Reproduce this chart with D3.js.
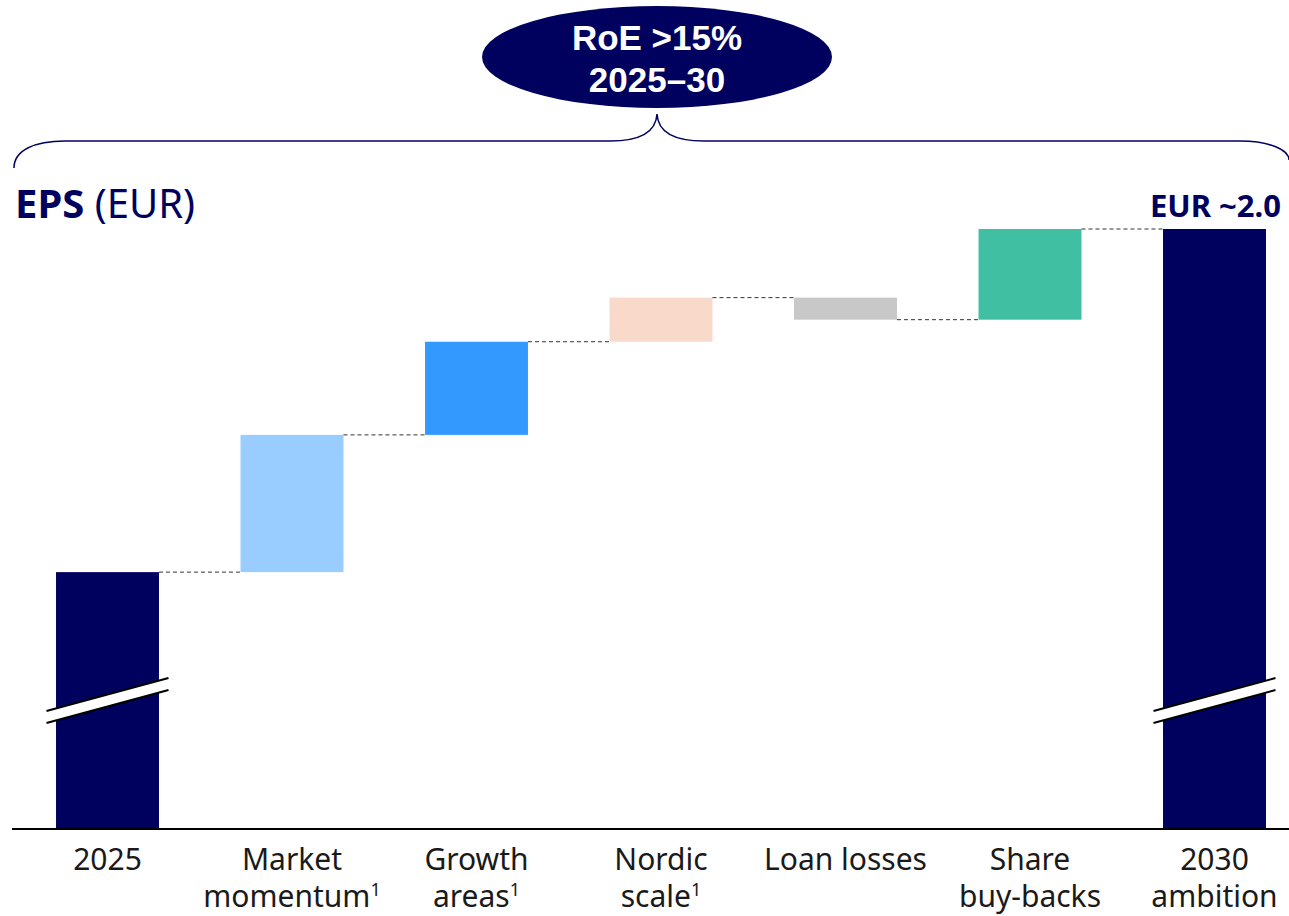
<!DOCTYPE html>
<html>
<head>
<meta charset="utf-8">
<script src="https://cdn.jsdelivr.net/npm/d3@7"></script>
<style>
 body { margin: 0; background: #fff; }
 text { font-family: "Noto Sans", sans-serif; }
</style>
</head>
<body>
<svg width="1289" height="916"></svg>
<script>
// data
var categories = ["2025", "Market momentum", "Growth areas", "Nordic scale", "Loan losses", "Share buy-backs", "2030 ambition"];
var labelLines = [["2025"], ["Market", "momentum"], ["Growth", "areas"], ["Nordic", "scale"], ["Loan losses"], ["Share", "buy-backs"], ["2030", "ambition"]];
var footnotes = ["", "1", "1", "1", "", "", ""];
var kinds = ["total", "delta", "delta", "delta", "delta", "delta", "total"];
var values = [1.30, 0.28, 0.19, 0.09, -0.045, 0.185, 2.0];
var colors = ["#00005e", "#99ccff", "#3399ff", "#f9d9ca", "#c9c8c8", "#40bfa3", "#00005e"];
var bubbleLines = ["RoE >15%", "2025–30"];
var yFloor = 0.778; // axis is broken, bars start here

var svg = d3.select("svg"),
 width = +svg.attr("width"),
 height = +svg.attr("height");

var navy = "#00005e";

var x = d3.scaleBand()
 .domain(categories)
 .range([15.25, 1306.75])
 .paddingInner(0.442)
 .paddingOuter(0.221);

var y = d3.scaleLinear()
 .domain([yFloor, 2.0])
 .range([828, 229]);

// work out the waterfall start/end for every bar
var running = 0;
var bars = categories.map(function(c, i) {
 var d = { name: c, color: colors[i], kind: kinds[i] };
 if (kinds[i] == "total") {
   d.y0 = yFloor; d.y1 = values[i]; running = values[i];
 } else {
   d.y0 = running; d.y1 = running + values[i]; running = d.y1;
 }
 d.end = running;
 return d;
});

svg.append("g").selectAll("rect")
 .data(bars)
 .enter().append("rect")
 .attr("x", function(d) { return x(d.name); })
 .attr("width", x.bandwidth())
 .attr("y", function(d) { return y(Math.max(d.y0, d.y1)); })
 .attr("height", function(d) { return Math.abs(y(d.y0) - y(d.y1)); })
 .attr("fill", function(d) { return d.color; });

// dashed connectors between bars
svg.append("g").selectAll("line")
 .data(bars.slice(0, -1))
 .enter().append("line")
 .attr("x1", function(d) { return x(d.name) + x.bandwidth(); })
 .attr("x2", function(d, i) { return x(categories[i + 1]); })
 .attr("y1", function(d) { return y(d.end); })
 .attr("y2", function(d) { return y(d.end); })
 .attr("stroke", "#333")
 .attr("stroke-width", 1)
 .attr("stroke-dasharray", "4,3");

// axis break marks on the total bars
var breakG = svg.append("g").selectAll("g")
 .data(bars.filter(function(d) { return d.kind == "total"; }))
 .enter().append("g")
 .attr("transform", function(d) {
   return "translate(" + (x(d.name) + x.bandwidth() / 2) + "," + (y(yFloor) - 128) + ")";
 });
breakG.append("path")
 .attr("d", "M-61,11 L61,-22 L61,-10 L-61,23 Z")
 .attr("fill", "#fff");
breakG.append("path")
 .attr("d", "M-61,11 L61,-22 M-61,23 L61,-10")
 .attr("stroke", "#000")
 .attr("stroke-width", 2)
 .attr("fill", "none");

// baseline
svg.append("line")
 .attr("x1", 12).attr("x2", width)
 .attr("y1", y(yFloor) + 1).attr("y2", y(yFloor) + 1)
 .attr("stroke", "#000")
 .attr("stroke-width", 2);

// category labels
var labels = svg.append("g").selectAll("text")
 .data(categories)
 .enter().append("text")
 .attr("text-anchor", "middle")
 .attr("font-size", 30)
 .attr("fill", "#1a1a1a");

labels.each(function(c, i) {
 var t = d3.select(this);
 var cx = x(c) + x.bandwidth() / 2;
 labelLines[i].forEach(function(line, k) {
   t.append("tspan")
     .attr("x", cx)
     .attr("y", 870 + k * 37)
     .text(line);
   if (k == labelLines[i].length - 1 && footnotes[i]) {
     t.append("tspan")
      .attr("dy", -11)
      .attr("font-size", 18)
      .text(footnotes[i]);
   }
 });
});

// title
var title = svg.append("text")
 .attr("x", 15)
 .attr("y", 218)
 .attr("font-size", 40)
 .attr("fill", navy);
title.append("tspan").attr("font-weight", "bold").text("EPS");
title.append("tspan").text(" (EUR)");

// end value label
svg.append("text")
 .attr("x", 1281)
 .attr("y", 217)
 .attr("text-anchor", "end")
 .attr("font-size", 31)
 .attr("font-weight", "bold")
 .attr("fill", navy)
 .text("EUR ~2.0");

// brace over the chart
svg.append("path")
 .attr("d", "M14,168 C14,150 35,141 65,141 L610,141 C640,141 656,132 657,114 C658,132 674,141 704,141 L1240,141 C1270,141 1289,150 1289,160")
 .attr("fill", "none")
 .attr("stroke", navy)
 .attr("stroke-width", 1.5);

// RoE bubble
svg.append("ellipse")
 .attr("cx", 657).attr("cy", 57)
 .attr("rx", 175).attr("ry", 51)
 .attr("fill", navy);

svg.append("g").selectAll("text")
 .data(bubbleLines)
 .enter().append("text")
 .attr("x", 657)
 .attr("y", function(d, i) { return 50 + i * 42; })
 .attr("text-anchor", "middle")
 .style("font-family", "'Liberation Sans', Arial, sans-serif")
 .attr("font-size", 35)
 .attr("font-weight", "bold")
 .attr("fill", "#fff")
 .text(function(d) { return d; });
</script>
</body>
</html>
